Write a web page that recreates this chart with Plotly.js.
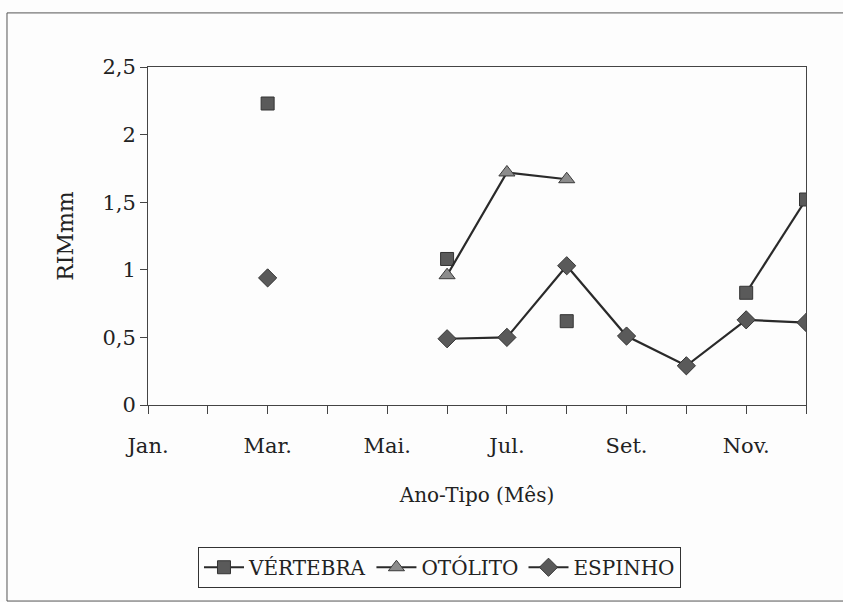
<!DOCTYPE html>
<html>
<head>
<meta charset="utf-8">
<script src="https://cdn.plot.ly/plotly-3.0.1.min.js"></script>
<style>
  html, body { margin: 0; padding: 0; background: #fdfdfd; }
  #chart { width: 843px; height: 602px; }
</style>
</head>
<body>
<div id="chart"></div>
<script>
// Months of the standard year (1 = Jan ... 12 = Dec)
const months = [1, 2, 3, 4, 5, 6, 7, 8, 9, 10, 11, 12];
const monthLabels = ["Jan.", "", "Mar.", "", "Mai.", "", "Jul.", "", "Set.", "", "Nov.", ""];

// RIM (mm) per month; null where no sample exists
const vertebra = [null, null, 2.23, null, null, 1.08, null, 0.62, null, null, 0.83, 1.52];
const otolito  = [null, null, null, null, null, 0.96, 1.72, 1.67, null, null, null, null];
const espinho  = [null, null, 0.94, null, null, 0.49, 0.50, 1.03, 0.51, 0.29, 0.63, 0.61];

const serif = "DejaVu Serif";
const lineStyle = { color: "#2a2a2a", width: 2.2 };

const traces = [
  {
    name: "VÉRTEBRA", x: months, y: vertebra, type: "scatter", mode: "lines+markers",
    connectgaps: false, line: lineStyle,
    marker: { symbol: "square", size: 13, color: "#5a5a5a", line: { color: "#333", width: 1 } }
  },
  {
    name: "OTÓLITO", x: months, y: otolito, type: "scatter", mode: "lines+markers",
    connectgaps: false, line: lineStyle,
    marker: { symbol: "triangle-up", size: 14, color: "#8c8c8c", line: { color: "#3a3a3a", width: 1 } }
  },
  {
    name: "ESPINHO", x: months, y: espinho, type: "scatter", mode: "lines+markers",
    connectgaps: false, line: lineStyle,
    marker: { symbol: "diamond", size: 14, color: "#5a5a5a", line: { color: "#333", width: 1 } }
  }
];

// Outer frame of the figure: left, top and bottom edges
const frameColor = "#555";
const frameX0 = -0.2143, frameX1 = 1.5, frameY0 = -0.58, frameY1 = 1.16;

const layout = {
  width: 843, height: 602,
  margin: { l: 148, r: 37, t: 67, b: 197 },
  paper_bgcolor: "#fdfdfd",
  plot_bgcolor: "#fdfdfd",
  separators: ", ",
  font: { family: serif, color: "#222", size: 20 },
  showlegend: true,
  xaxis: {
    range: [1, 12],
    tickmode: "array", tickvals: months, ticktext: monthLabels,
    ticks: "outside", ticklen: 8, tickcolor: "#444", tickwidth: 1,
    showgrid: false, zeroline: false,
    showline: true, linecolor: "#444", linewidth: 1, mirror: true,
    tickfont: { family: serif, size: 21, color: "#222" },
    ticklabelstandoff: 14,
    title: { text: "Ano-Tipo (Mês)", font: { family: serif, size: 20, color: "#222" }, standoff: 30 }
  },
  yaxis: {
    range: [0, 2.5], dtick: 0.5,
    ticks: "outside", ticklen: 7, tickcolor: "#444", tickwidth: 1,
    showgrid: false, zeroline: false,
    showline: true, linecolor: "#444", linewidth: 1, mirror: true,
    tickfont: { family: serif, size: 21, color: "#222" },
    title: { text: "RIMmm", font: { family: serif, size: 22, color: "#222" }, standoff: 22 }
  },
  legend: {
    orientation: "h",
    x: 0.443, xanchor: "center",
    y: -0.48, yanchor: "middle",
    bordercolor: "#333", borderwidth: 1,
    bgcolor: "rgba(0,0,0,0)",
    font: { family: serif, size: 20, color: "#222" },
    itemwidth: 40
  },
  shapes: [
    { type: "line", xref: "paper", yref: "paper", x0: frameX0, x1: frameX0, y0: frameY0, y1: frameY1,
      line: { color: frameColor, width: 1 }, layer: "below" },
    { type: "line", xref: "paper", yref: "paper", x0: frameX0, x1: frameX1, y0: frameY1, y1: frameY1,
      line: { color: frameColor, width: 1 }, layer: "below" },
    { type: "line", xref: "paper", yref: "paper", x0: frameX0, x1: frameX1, y0: frameY0, y1: frameY0,
      line: { color: frameColor, width: 1 }, layer: "below" }
  ]
};

Plotly.newPlot("chart", traces, layout, { displayModeBar: false, staticPlot: true });
</script>
</body>
</html>
